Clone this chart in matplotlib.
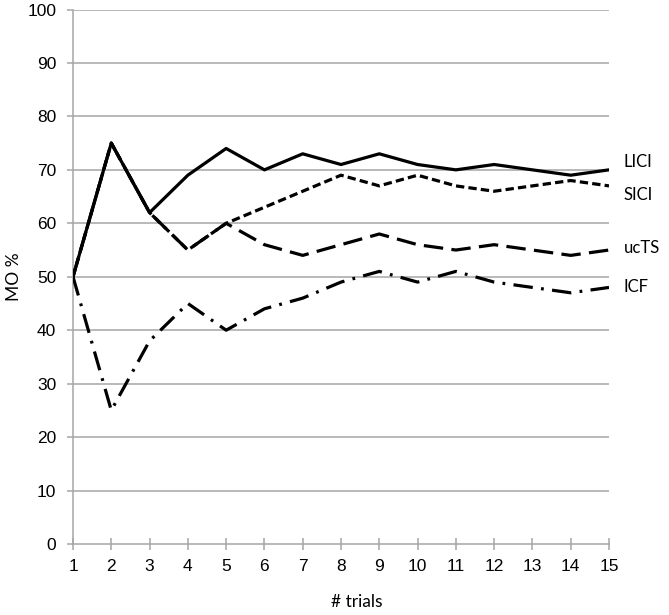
import numpy as np
import matplotlib
matplotlib.use("Agg")
import matplotlib.pyplot as plt

# values
trials = list(range(1, 16))
lici = [50, 75, 62, 69, 74, 70, 73, 71, 73, 71, 70, 71, 70, 69, 70]
sici = [50, 75, 62, 55, 60, 63, 66, 69, 67, 69, 67, 66, 67, 68, 67]
ucts = [50, 75, 62, 55, 60, 56, 54, 56, 58, 56, 55, 56, 55, 54, 55]
icf = [50, 25, 38, 45, 40, 44, 46, 49, 51, 49, 51, 49, 48, 47, 48]
names = ["LICI", "SICI", "ucTS", "ICF"]
y_ticks = list(range(0, 101, 10))

plt.rcParams['lines.scale_dashes'] = False
plt.rcParams['font.family'] = ['Liberation Sans', 'DejaVu Sans']

fig = plt.figure(figsize=(6.69, 6.15), dpi=100)
ax = fig.add_axes([73/669, 71/615, 536/669, 534.5/615])

grey = '#a6a6a6'
for y in y_ticks[1:]:
    ax.axhline(y, color=grey, lw=1.1, zorder=1)

# draw back to front so the solid line sits on top
ax.plot(trials, icf, color='black', lw=2.3, linestyle=(0, (14, 6, 2, 6)), zorder=3)
ax.plot(trials, ucts, color='black', lw=2.3, linestyle=(0, (14, 6)), zorder=3)
ax.plot(trials, sici, color='black', lw=2.3, linestyle=(0, (6, 3)), zorder=3)
ax.plot(trials, lici, color='black', lw=2.3, linestyle='-', zorder=4)

ax.set_xlim(1, 15)
ax.set_ylim(0, 100)
ax.set_xticks(trials)
ax.set_yticks(y_ticks)
ax.tick_params(axis='x', direction='inout', length=9, width=1.1, color=grey,
               labelsize=12.5, pad=6)
ax.tick_params(axis='y', direction='out', length=4, width=1.1, color=grey,
               labelsize=12.5, pad=8)

for s in ['top', 'right']:
    ax.spines[s].set_visible(False)
for s in ['left', 'bottom']:
    ax.spines[s].set_color(grey)
    ax.spines[s].set_linewidth(1.1)
    ax.spines[s].set_zorder(2)

label_y = [71.5, 65.3, 55.4, 48.1]
for n, ly in zip(names, label_y):
    ax.text(15.38, ly, n, fontsize=12, family=['Lato', 'DejaVu Sans'],
            va='center', ha='left', clip_on=False)

fig.text(357/669, 1 - 602/615, '# trials', fontsize=12.5, family=['Lato', 'DejaVu Sans'],
         ha='center', va='center')
fig.text(14/669, 1 - 277/615, 'MO %', fontsize=12.5, family=['Lato', 'DejaVu Sans'],
         ha='center', va='center', rotation=90)

fig.savefig('out.png', dpi=100)
